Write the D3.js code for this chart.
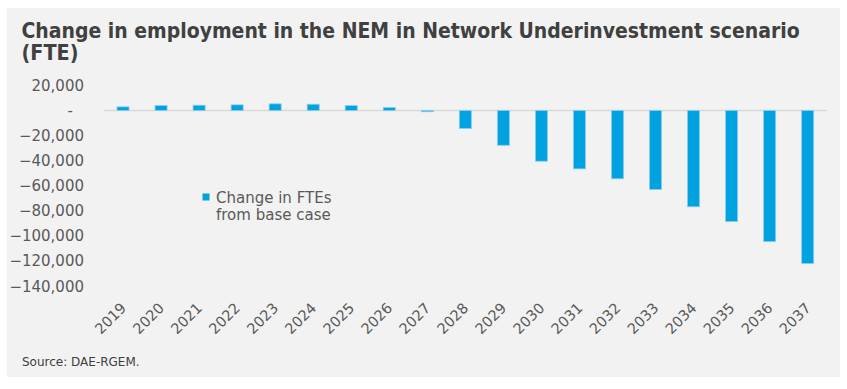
<!DOCTYPE html>
<html>
<head>
<meta charset="utf-8">
<script src="https://cdn.jsdelivr.net/npm/d3@7"></script>
<style>
html,body{margin:0;padding:0;background:#fff;}
svg{display:block;}
text{font-family:"DejaVu Sans",Verdana,sans-serif;}
</style>
</head>
<body>
<svg id="chart" width="847" height="389"></svg>
<script>
const years = ["2019","2020","2021","2022","2023","2024","2025","2026","2027","2028","2029","2030","2031","2032","2033","2034","2035","2036","2037"];
const changeFTE = [2900,4000,4200,4500,5300,5000,3900,2400,-1000,-14300,-27700,-40400,-46500,-54400,-63000,-76700,-88500,-104400,-121900];
const yTicks = [20000,0,-20000,-40000,-60000,-80000,-100000,-120000,-140000];
const titleLines = ["Change in employment in the NEM in Network Underinvestment scenario","(FTE)"];
const legendLines = ["Change in FTEs","from base case"];
const sourceText = "Source: DAE-RGEM.";

const svg = d3.select("#chart");
svg.append("rect").attr("x",7).attr("y",8).attr("width",833).attr("height",369).attr("fill","#f2f2f2");

// title: each line scaled horizontally to the reference width
const titleWidths = [779, 57];
titleLines.forEach((t,i)=>{
  const tx = svg.append("text").attr("fill","#404040").attr("font-weight","bold")
    .attr("font-family","'DejaVu Sans Condensed','DejaVu Sans',sans-serif")
    .attr("font-size",20.5).attr("x",0).attr("y",0).text(t);
  const w = tx.node().getComputedTextLength();
  const sx = titleWidths[i] / w;
  tx.attr("transform",`translate(21.5,${37.7+i*21.8}) scale(${sx},1)`);
});

const x = d3.scaleBand().domain(years).range([104,826.7]).paddingInner(0.684).paddingOuter(0.342);
const y = d3.scaleLinear().domain([-140000,20000]).range([286.2,85.4]);

// zero line
svg.append("line").attr("x1",104).attr("x2",826.7).attr("y1",y(0)).attr("y2",y(0))
  .attr("stroke","#d9d9d9").attr("stroke-width",1.3);

// bars
svg.append("g").selectAll("rect").data(years).join("rect")
  .attr("x",d=>x(d)).attr("width",x.bandwidth())
  .attr("y",(d,i)=>y(Math.max(0,changeFTE[i])))
  .attr("height",(d,i)=>Math.abs(y(changeFTE[i])-y(0)))
  .attr("fill","#00a3e0").attr("stroke","#8ccbee").attr("stroke-width",0.8);

// y axis
const yAxis = d3.axisLeft(y).tickValues(yTicks).tickSize(0).tickPadding(0)
  .tickFormat(d=> d===0 ? "-" : d3.format(",")(d));
const gy = svg.append("g").attr("transform","translate(84,0)").call(yAxis);
gy.select(".domain").remove();
gy.selectAll("text").attr("fill","#595959").attr("font-size",15)
  .attr("font-family","'DejaVu Sans',Verdana,sans-serif")
  .attr("dx",d=>d===0?-11:0);

// x axis
const xAxis = d3.axisBottom(x).tickSize(0).tickPadding(0);
const gx = svg.append("g").attr("transform","translate(0,294)").call(xAxis);
gx.select(".domain").remove();
gx.selectAll("text").attr("fill","#595959").attr("font-size",14.5)
  .attr("font-family","'DejaVu Sans',Verdana,sans-serif")
  .attr("text-anchor","end").attr("dy",0)
  .attr("transform","translate(4,15) rotate(-45)");

// legend
svg.append("rect").attr("x",202.5).attr("y",193.5).attr("width",7).attr("height",7).attr("fill","#00a3e0");
const lg = svg.append("text").attr("fill","#595959").attr("font-size",15);
legendLines.forEach((t,i)=>lg.append("tspan").attr("x",216).attr("y",203+i*16.5).text(t));

// source
svg.append("text").attr("x",22).attr("y",366).attr("fill","#404040").attr("font-size",12).text(sourceText);
</script>
</body>
</html>
